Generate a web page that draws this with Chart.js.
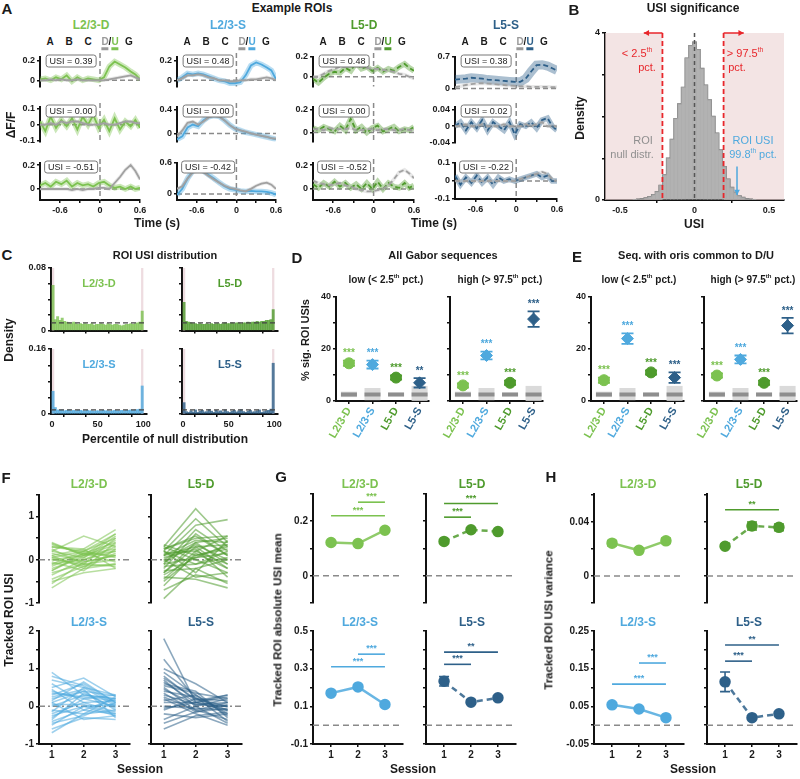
<!DOCTYPE html>
<html><head><meta charset="utf-8">
<script src="https://cdn.jsdelivr.net/npm/chart.js@4.4.1/dist/chart.umd.min.js"></script>
<style>
html,body{margin:0;padding:0;background:#fff;}
#fig{position:relative;width:800px;height:779px;overflow:hidden;font-family:"Liberation Sans",Arial,Helvetica,sans-serif;}
#fig canvas{position:absolute;z-index:1;}
.t{position:absolute;white-space:nowrap;font-weight:bold;color:#1a1a1a;transform:translate(-50%,-50%);z-index:5;line-height:1.15;}
.usi{position:absolute;font-size:9px;border:1px solid #777;border-radius:3px;padding:0 3px;background:#fff;transform:translate(-50%,-50%);z-index:5;white-space:nowrap;line-height:11px;color:#222;}
sup{font-size:0.6em;vertical-align:top;position:relative;top:-0.15em;}
</style></head><body><div id="fig"></div>
<script>
// ================= DATA =================
const COLORS = {L23D:'#7cc250', L5D:'#4f9b2d', L23S:'#4fa9de', L5S:'#2e6089'};
const CATS = ['L2/3-D','L2/3-S','L5-D','L5-S'];
const CATCOL = [COLORS.L23D, COLORS.L23S, COLORS.L5D, COLORS.L5S];

// Panel A: example traces (time in s)
const A_TIME = [-0.9,-0.82,-0.74,-0.66,-0.58,-0.5,-0.42,-0.34,-0.26,-0.18,-0.1,-0.02,0.06,0.14,0.22,0.3,0.38,0.46,0.53,0.6];
const A_SEQ = ['A','B','C','D/U','G'];
const A_L23D_U = [
 [0.01,0.02,0.0,0.03,0.01,0.05,-0.01,0.03,0.0,0.02,0.01,0.0,0.03,0.14,0.19,0.16,0.13,0.09,0.06,0.01],
 [0.02,-0.04,0.05,-0.02,0.03,-0.01,0.04,-0.03,0.05,0.0,0.06,-0.02,0.03,-0.04,0.04,-0.03,0.02,-0.01,0.03,-0.02],
 [0.03,0.05,0.02,0.06,0.04,0.07,0.02,0.05,0.03,0.04,0.02,0.05,0.06,0.03,0.01,0.02,0.0,0.02,0.0,0.01]];
const A_L23D_D = [
 [0.0,0.0,0.01,0.0,0.01,0.0,0.0,0.01,0.0,0.0,0.0,0.0,0.0,0.01,0.02,0.03,0.04,0.05,0.03,0.01],
 [0.0,0.0,0.01,0.0,0.02,0.01,0.02,0.02,0.01,0.0,0.0,0.0,0.01,0.0,0.0,0.01,0.02,0.02,0.01,0.01],
 [0.0,0.0,0.0,0.0,0.0,0.0,-0.01,0.0,-0.01,0.0,0.0,0.01,0.01,0.0,0.05,0.1,0.16,0.2,0.15,0.08]];
const A_L23D_USI = ['0.39','0.00','-0.51'];
const A_L23S_U = [
 [0.0,0.03,0.07,0.06,0.07,0.06,0.04,0.02,0.0,-0.01,-0.03,-0.03,-0.02,0.05,0.15,0.18,0.16,0.13,0.1,0.01],
 [-0.1,-0.05,0.1,0.15,0.12,0.22,0.28,0.3,0.29,0.22,0.14,0.08,0.05,0.02,0.0,-0.02,-0.04,-0.06,-0.08,-0.1],
 [-0.02,0.1,0.3,0.45,0.5,0.45,0.37,0.3,0.22,0.15,0.1,0.08,0.06,0.05,0.06,0.05,0.05,0.04,0.02,-0.01]];
const A_L23S_D = [
 [0.0,0.02,0.05,0.05,0.06,0.05,0.03,0.02,0.0,0.0,-0.01,-0.01,0.0,0.0,0.01,0.01,0.02,0.03,0.02,0.0],
 [-0.05,0.05,0.18,0.2,0.15,0.2,0.27,0.3,0.28,0.22,0.14,0.08,0.05,0.03,0.0,-0.02,-0.04,-0.06,-0.08,-0.09],
 [0.1,0.15,0.3,0.42,0.45,0.42,0.35,0.28,0.22,0.16,0.12,0.1,0.07,0.05,0.1,0.16,0.2,0.22,0.18,0.1]];
const A_L23S_USI = ['0.48','0.00','-0.42'];
const A_L5D_U = [
 [-0.02,-0.06,-0.01,0.03,0.05,0.04,0.09,0.06,0.14,0.08,0.1,0.06,0.09,0.05,0.08,0.06,0.1,0.13,0.09,0.06],
 [0.04,0.02,0.05,0.03,0.01,0.06,0.02,0.12,0.02,0.05,0.0,0.04,0.06,0.01,0.03,0.05,0.01,0.03,0.02,0.05],
 [0.04,0.01,0.05,0.02,0.06,0.02,0.05,0.01,0.04,0.0,0.05,0.0,0.06,0.0,0.05,0.02,0.01,0.05,0.01,0.03]];
const A_L5D_D = [
 [0.0,0.0,0.03,0.06,0.08,0.1,0.1,0.11,0.12,0.1,0.09,0.08,0.08,0.07,0.06,0.05,0.03,0.02,0.0,-0.02],
 [0.03,0.03,0.02,0.04,0.03,0.03,0.03,0.04,0.02,0.02,0.03,0.03,0.02,0.03,0.03,0.02,0.02,0.03,0.02,0.02],
 [0.07,0.05,0.04,0.03,0.04,0.05,0.03,0.02,0.0,-0.01,-0.02,-0.02,-0.01,0.0,0.03,0.08,0.14,0.16,0.13,0.09]];
const A_L5D_USI = ['0.48','0.00','-0.52'];
const A_L5S_U = [
 [0.2,0.21,0.22,0.24,0.23,0.22,0.2,0.19,0.18,0.17,0.16,0.15,0.15,0.22,0.38,0.52,0.53,0.5,0.45,0.4],
 [0.0,0.01,-0.01,0.01,-0.005,0.015,-0.01,0.01,0.0,-0.01,0.01,-0.02,0.005,0.0,0.01,-0.005,0.015,0.02,0.0,-0.01],
 [0.03,-0.02,0.02,-0.01,0.03,-0.01,0.02,-0.02,0.02,0.0,0.01,0.0,0.01,0.02,0.03,0.04,0.02,0.03,0.0,0.0]];
const A_L5S_D = [
 [0.03,0.05,0.08,0.1,0.11,0.12,0.11,0.1,0.09,0.08,0.07,0.06,0.05,0.05,0.04,0.04,0.04,0.04,0.03,0.03],
 [0.0,0.0,0.005,0.0,0.0,0.005,0.0,0.0,0.0,0.005,0.0,0.0,0.0,0.005,0.0,0.005,0.01,0.0,0.0,0.0],
 [0.0,0.0,0.0,0.0,0.0,0.0,0.0,0.0,0.0,0.0,0.0,0.0,0.01,0.02,0.03,0.04,0.05,0.04,0.01,0.0]];
const A_L5S_USI = ['0.38','0.02','-0.22'];
const A_L23D_YT = [[0,0.2],[-0.1,0,0.1],[0,0.2]];
const A_L23S_YT = [[0,0.2],[0,0.4],[0,0.6]];
const A_L5D_YT = [[0,0.2],[0,0.2],[0,0.2]];
const A_L5S_YT = [[0,0.7],[-0.04,0,0.04],[-0.1,0,0.1]];
const A_XT = [-0.6,-0.3,0,0.3,0.6];
const A_XL = {'-0.6':'-0.6','0':'0','0.6':'0.6'};

// Panel B: null distribution
const B_BINS = [-0.4,-0.375,-0.35,-0.325,-0.3,-0.275,-0.25,-0.225,-0.2,-0.175,-0.15,-0.125,-0.1,-0.075,-0.05,-0.025,0,0.025,0.05,0.075,0.1,0.125,0.15,0.175,0.2,0.225,0.25,0.275,0.3,0.325,0.35,0.375,0.4];
const B_DENS = [0.01,0.02,0.03,0.05,0.08,0.13,0.2,0.35,0.6,1.0,1.45,1.95,2.3,2.7,3.4,3.7,3.78,3.6,3.15,2.75,2.4,2.0,1.6,1.2,0.8,0.5,0.3,0.18,0.1,0.06,0.03,0.02,0.01];
const B_THRESH = [-0.215, 0.195];
const B_ARROW = [-0.34, 0.33];
const B_ROI = 0.285;

// Panel C: percentile histograms
const C_BINS = [1.25,3.75,6.25,8.75,11.25,13.75,16.25,18.75,21.25,23.75,26.25,28.75,31.25,33.75,36.25,38.75,41.25,43.75,46.25,48.75,51.25,53.75,56.25,58.75,61.25,63.75,66.25,68.75,71.25,73.75,76.25,78.75,81.25,83.75,86.25,88.75,91.25,93.75,96.25,98.75];
const C_L23D = [0.058,0.014,0.018,0.013,0.016,0.012,0.011,0.01,0.009,0.011,0.009,0.008,0.009,0.008,0.009,0.008,0.008,0.009,0.007,0.008,0.008,0.009,0.008,0.007,0.009,0.008,0.007,0.008,0.008,0.007,0.006,0.007,0.008,0.008,0.009,0.008,0.009,0.01,0.011,0.025];
const C_L5D = [0.036,0.012,0.011,0.01,0.009,0.009,0.008,0.009,0.008,0.008,0.009,0.008,0.009,0.008,0.009,0.009,0.008,0.009,0.01,0.009,0.009,0.01,0.009,0.01,0.01,0.009,0.01,0.01,0.011,0.01,0.011,0.011,0.012,0.011,0.012,0.012,0.013,0.013,0.014,0.027];
const C_L23S = [0.056,0.016,0.01,0.009,0.01,0.008,0.009,0.01,0.008,0.009,0.008,0.009,0.009,0.008,0.008,0.009,0.008,0.008,0.007,0.008,0.008,0.008,0.009,0.008,0.008,0.007,0.008,0.009,0.008,0.008,0.009,0.008,0.009,0.009,0.01,0.009,0.01,0.011,0.012,0.069];
const C_L5S = [0.028,0.006,0.004,0.008,0.005,0.01,0.004,0.007,0.009,0.005,0.006,0.011,0.007,0.004,0.009,0.006,0.008,0.005,0.01,0.006,0.004,0.007,0.009,0.005,0.008,0.011,0.006,0.004,0.007,0.009,0.005,0.006,0.008,0.01,0.004,0.006,0.008,0.009,0.012,0.125];
const C_PINK = [[0,2.5],[97.5,100]];
const C_UNIFORM = 0.01;

// Panels D/E: % significant ROI USIs (order: L2/3-D, L2/3-S, L5-D, L5-S)
const D_LOW = [14.5,14,9,7];      const D_LOW_ERR = [1,1.5,0.8,1.8];   const D_LOW_STARS = ['***','***','***','**'];
const D_HIGH = [6,17.5,7,31.5];   const D_HIGH_ERR = [0.8,1.5,0.8,3];  const D_HIGH_STARS = ['***','***','***','***'];
const E_LOW = [8,24,11,9];        const E_LOW_ERR = [1,2,0.8,2];       const E_LOW_STARS = ['***','***','***','***'];
const E_HIGH = [9.8,16,7,29];     const E_HIGH_ERR = [0.8,1.5,0.8,3];  const E_HIGH_STARS = ['***','***','***','***'];
const NULL_LO = [1.5,0.3,1.8,0];
const NULL_HI = [3.6,5,3.2,5.8];
const NULL_MED = [2.5,2.5,2.5,2.5];

// Panel F: tracked ROI USIs (session 1,2,3)
const SESSIONS = [1,2,3];
const F_L23D = [[0.4,0.1,0.6],[0.3,0.2,0.5],[0.2,0.55,0.3],[0.35,0.15,0.4],[0.1,0.25,0.7],[0.0,0.1,0.2],[-0.1,0.0,0.3],[0.15,-0.05,0.1],[-0.2,0.05,0.45],[-0.3,-0.1,0.0],[-0.45,-0.15,0.15],[-0.65,-0.2,-0.1],[-0.5,-0.3,-0.2],[-0.25,0.1,0.35],[0.05,0.2,0.05],[0.25,-0.1,-0.15],[-0.05,-0.25,0.25],[0.2,0.05,0.55],[-0.15,0.15,-0.05],[-0.35,0.0,0.2],[0.1,-0.2,0.4],[-0.55,-0.05,0.1],[0.3,0.25,-0.2],[0.0,-0.1,0.5],[0.38,0.12,0.25],[-0.1,0.2,0.6],[0.05,-0.15,-0.1],[-0.25,0.15,0.1]];
const F_L5D = [[0.3,1.18,0.4],[0.2,0.95,0.3],[0.1,0.8,0.93],[-0.1,0.7,0.2],[0.25,0.5,0.55],[-0.2,0.6,0.1],[0.0,0.4,0.5],[-0.3,0.3,0.35],[0.15,0.2,-0.1],[-0.5,0.1,0.3],[-0.9,-0.2,0.0],[-0.7,-0.35,-0.5],[-0.4,-0.45,-0.65],[0.3,0.0,-0.3],[-0.15,-0.1,0.2],[0.05,0.25,-0.4],[-0.6,0.15,-0.2],[0.2,-0.3,0.45],[-0.05,0.35,0.0],[0.35,0.1,0.25],[-0.25,-0.2,-0.55],[0.1,0.45,0.4],[-0.35,0.05,0.15],[0.0,-0.4,-0.3],[0.25,0.55,0.1],[-0.45,0.2,0.55],[0.1,0.3,-0.2],[-0.1,0.05,0.35],[0.2,-0.1,0.05],[-0.3,0.4,-0.1]];
const F_L23S = [[0.9,0.3,0.2],[0.7,0.5,0.3],[0.5,0.75,0.25],[0.3,0.6,0.1],[0.4,0.2,0.0],[0.2,0.4,-0.1],[0.0,0.3,0.2],[-0.2,0.1,0.15],[-0.4,-0.1,-0.2],[-0.6,-0.3,-0.35],[-0.7,-0.2,-0.1],[-0.3,0.2,0.3],[0.1,-0.35,-0.25],[0.6,0.1,-0.15],[-0.5,0.0,0.05],[0.25,0.45,-0.3],[-0.1,-0.2,0.25],[0.15,0.65,0.1],[-0.35,0.35,-0.05],[0.45,-0.1,0.2],[0.05,0.05,-0.2],[-0.15,0.5,0.0],[0.35,0.25,0.15],[-0.45,-0.25,0.1],[0.8,0.55,0.05],[-0.25,0.0,-0.25],[0.1,0.4,0.28]];
const F_L5S = [[1.8,0.1,-0.1],[1.25,0.2,0.0],[1.0,0.6,0.1],[0.9,0.3,-0.2],[0.8,0.15,0.3],[0.7,0.0,0.2],[0.6,0.4,-0.3],[0.5,-0.1,0.1],[0.4,0.25,-0.4],[0.3,0.05,0.0],[0.2,-0.2,-0.5],[0.1,0.1,0.25],[0.0,-0.05,-0.1],[-0.1,0.2,0.15],[-0.2,-0.3,-0.2],[-0.35,0.0,-0.45],[-0.45,-0.15,0.05],[-0.6,-0.25,-0.15],[0.55,0.35,0.2],[0.25,-0.1,-0.35],[0.65,0.1,0.0],[0.15,0.3,-0.25],[-0.05,0.1,0.3],[0.35,-0.15,-0.05],[0.75,0.2,-0.1],[0.45,0.05,0.1]];
const F_TOP_YT = [-1,-0.5,0,0.5,1,1.5];
const F_BOT_YT = [-1,-0.5,0,0.5,1,1.5,2];

// Panel G: tracked absolute USI mean
const G_L23D = [0.122,0.118,0.167]; const G_L23D_ERR = [0.005,0.005,0.006];
const G_L5D  = [0.126,0.169,0.162]; const G_L5D_ERR  = [0.006,0.006,0.006];
const G_L23S = [0.17,0.203,0.11];   const G_L23S_ERR = [0.01,0.01,0.01];
const G_L5S  = [0.233,0.122,0.145]; const G_L5S_ERR  = [0.025,0.01,0.01];
const G_L23D_SIG = [[2,3,0.27,'***'],[1,3,0.22,'***']];
const G_L5D_SIG  = [[1,3,0.265,'***'],[1,2,0.215,'***']];
const G_L23S_SIG = [[2,3,0.377,'***'],[1,3,0.31,'***']];
const G_L5S_SIG  = [[1,3,0.388,'**'],[1,2,0.323,'***']];

// Panel H: tracked USI variance
const H_L23D = [0.0243,0.019,0.026]; const H_L23D_ERR = [0.002,0.0015,0.002];
const H_L5D  = [0.022,0.037,0.036];  const H_L5D_ERR  = [0.0015,0.003,0.0025];
const H_L23S = [0.054,0.043,0.02];   const H_L23S_ERR = [0.005,0.003,0.003];
const H_L5S  = [0.115,0.02,0.03];    const H_L5S_ERR  = [0.026,0.004,0.004];
const H_L23D_SIG = [];
const H_L5D_SIG  = [[1,3,0.049,'**']];
const H_L23S_SIG = [[2,3,0.165,'***'],[1,3,0.109,'***']];
const H_L5S_SIG  = [[1,3,0.213,'**'],[1,2,0.17,'***']];

// ================= HELPERS =================
Chart.defaults.font.family = '"Liberation Sans", Arial, sans-serif';
Chart.defaults.font.size = 9;
Chart.defaults.font.weight = 'bold';
Chart.defaults.color = '#1a1a1a';
const FONT = '"Liberation Sans", Arial, sans-serif';
const fig = document.getElementById('fig');
function rgba(h,a){const n=parseInt(h.slice(1),16);return 'rgba('+(n>>16)+','+((n>>8)&255)+','+(n&255)+','+a+')';}
function T(html,x,y,o){o=o||{};const d=document.createElement('div');d.className='t';d.innerHTML=html;
  d.style.left=x+'px';d.style.top=y+'px';d.style.fontSize=(o.s||11)+'px';if(o.c)d.style.color=o.c;
  let tr='translate(-50%,-50%)';if(o.a==='l')tr='translate(0,-50%)';if(o.a==='r')tr='translate(-100%,-50%)';
  if(o.r)tr+=' rotate(-90deg)';d.style.transform=tr;if(o.w)d.style.fontWeight=o.w;fig.appendChild(d);return d;}
const YW=36, PT=8, PR=16;
function mk(l,t,w,h,xs,ys,datasets,plugins,xh){
  if(xh==null)xh=24;
  const c=document.createElement('canvas');
  const W=w+YW+PR, H=h+PT+xh;
  c.width=W;c.height=H;c.style.width=W+'px';c.style.height=H+'px';
  c.style.left=(l-YW)+'px';c.style.top=(t-PT)+'px';
  fig.appendChild(c);
  xs.afterFit=s=>{s.height=xh;}; ys.afterFit=s=>{s.width=YW;};
  xs.position='bottom'; ys.position='left';
  return new Chart(c,{type:'line',data:{datasets:datasets},
    options:{responsive:false,maintainAspectRatio:false,animation:false,devicePixelRatio:1,events:[],
      layout:{padding:{top:PT,right:PR,left:0,bottom:0}},scales:{x:xs,y:ys},
      plugins:{legend:{display:false},tooltip:{enabled:false}}},plugins:plugins||[]});
}
function ax(min,max,vals,labs,o){
  o=o||{};
  return {type:'linear',min:min,max:max,offset:false,
    afterBuildTicks:sc=>{sc.ticks=vals.map(v=>({value:v}));},
    ticks:{autoSkip:false,maxRotation:o.rot||0,minRotation:o.rot||0,padding:(o.pad!=null?o.pad:2),
      font:{size:o.fs||9,weight:'bold',family:FONT},color:o.col||'#1a1a1a',
      callback:v=>(labs&&labs[v]!==undefined)?labs[v]:''},
    grid:{display:true,drawOnChartArea:false,drawTicks:true,tickLength:o.tl||3,color:'#111',lineWidth:1.5},
    border:{display:true,color:'#111',width:2}};
}
function hidden(min,max){return {type:'linear',min:min,max:max,offset:false,ticks:{display:false},grid:{display:false},border:{display:false}};}
function lab(vals){const o={};vals.forEach(v=>{o[v]=String(v);});return o;}
function zeroPlug(h,v,dash){return {id:'zero',beforeDatasetsDraw(ch){const {ctx,chartArea:a,scales}=ch;ctx.save();
  ctx.strokeStyle='#8a8a8a';ctx.lineWidth=1.5;ctx.setLineDash(dash||[5,3]);ctx.beginPath();
  if(h){const py=scales.y.getPixelForValue(0);ctx.moveTo(a.left,py);ctx.lineTo(a.right,py);}
  if(v){const px=scales.x.getPixelForValue(0);ctx.moveTo(px,a.top-4);ctx.lineTo(px,a.bottom);}
  ctx.stroke();ctx.restore();}};}
function arrow(ctx,x1,y1,x2,y2,c){ctx.strokeStyle=c;ctx.fillStyle=c;ctx.lineWidth=1.5;ctx.setLineDash([]);ctx.beginPath();ctx.moveTo(x1,y1);ctx.lineTo(x2,y2);ctx.stroke();
  const an=Math.atan2(y2-y1,x2-x1);ctx.beginPath();ctx.moveTo(x2,y2);ctx.lineTo(x2-6*Math.cos(an-0.5),y2-6*Math.sin(an-0.5));ctx.lineTo(x2-6*Math.cos(an+0.5),y2-6*Math.sin(an+0.5));ctx.closePath();ctx.fill();}
const errPlug={id:'err',afterDatasetsDraw(ch){const {ctx,scales:{x,y}}=ch;ch.data.datasets.forEach(ds=>{if(!ds.err)return;
  ctx.save();ctx.strokeStyle=ds.pointBackgroundColor;ctx.lineWidth=1.6;ctx.setLineDash([]);
  ds.data.forEach((p,i)=>{const e=ds.err[i];const px=x.getPixelForValue(p.x),y1=y.getPixelForValue(p.y-e),y2=y.getPixelForValue(p.y+e);
    ctx.beginPath();ctx.moveTo(px,y1);ctx.lineTo(px,y2);ctx.moveTo(px-5,y1);ctx.lineTo(px+5,y1);ctx.moveTo(px-5,y2);ctx.lineTo(px+5,y2);ctx.stroke();});
  ctx.restore();});}};
function sigPlug(sig,c){return {id:'sig',afterDatasetsDraw(ch){const {ctx,scales:{x,y}}=ch;ctx.save();ctx.strokeStyle=c;ctx.fillStyle=c;ctx.lineWidth=1.6;
  ctx.font='bold 9px '+FONT;ctx.textAlign='center';ctx.textBaseline='bottom';
  sig.forEach(s=>{const x1=x.getPixelForValue(s[0]),x2=x.getPixelForValue(s[1]),py=y.getPixelForValue(s[2]);
    ctx.beginPath();ctx.moveTo(x1,py);ctx.lineTo(x2,py);ctx.stroke();ctx.fillText(s[3],(x1+x2)/2,py-1);});
  ctx.restore();}};}

// ================= PANEL A =================
T('A',7,9,{s:15});
T('Example ROIs',292,9,{s:12});
const aCols=[
 {n:'L2/3-D',u:A_L23D_U,d:A_L23D_D,usi:A_L23D_USI,c:COLORS.L23D,dash:false,l:40,w:100,yt:A_L23D_YT,
  rows:[[57,33,-0.064,0.236],[107,38,-0.106,0.111],[163,37,-0.092,0.217]]},
 {n:'L2/3-S',u:A_L23S_U,d:A_L23S_D,usi:A_L23S_USI,c:COLORS.L23S,dash:false,l:177,w:99,yt:A_L23S_YT,
  rows:[[57,33,-0.064,0.236],[107,38,-0.138,0.446],[163,37,-0.116,0.6]]},
 {n:'L5-D',u:A_L5D_U,d:A_L5D_D,usi:A_L5D_USI,c:COLORS.L5D,dash:true,l:313,w:101,yt:A_L5D_YT,
  rows:[[57,33,-0.1,0.2],[107,38,-0.08,0.224],[163,37,-0.092,0.217]]},
 {n:'L5-S',u:A_L5S_U,d:A_L5S_D,usi:A_L5S_USI,c:COLORS.L5S,dash:true,l:455,w:102,yt:A_L5S_YT,
  rows:[[57,35,0,0.7],[107,39,-0.04,0.047],[163,36,-0.1,0.1]]}
];
const SEQ_OFF=[10,29,48,70,89];
aCols.forEach(col=>{
  T(col.n,col.l+51,26,{s:12,c:col.c});
  A_SEQ.forEach((s,k)=>{
    let html=s;
    if(s==='D/U') html='<span style="color:#9a9a9a;border-bottom:3px solid #9a9a9a">D</span>/<span style="color:'+col.c+';border-bottom:3px solid '+col.c+'">U</span>';
    T(html,col.l+SEQ_OFF[k],42,{s:10});
  });
  col.rows.forEach((r,i)=>{
    const pts=arr=>A_TIME.map((t,k)=>({x:t,y:arr[k]}));
    const dash=col.dash?[5,3]:[];
    const ds=[
      {data:pts(col.d[i]),borderColor:'rgba(165,165,165,0.25)',borderWidth:3.5,pointRadius:0},
      {data:pts(col.d[i]),borderColor:'#a0a0a0',borderWidth:1.8,pointRadius:0,borderDash:dash},
      {data:pts(col.u[i]),borderColor:rgba(col.c,0.4),borderWidth:(col.n==='L5-S'&&i===0)?9:5.5,pointRadius:0},
      {data:pts(col.u[i]),borderColor:col.c,borderWidth:1.8,pointRadius:0,borderDash:dash}];
    const xs = i===2 ? ax(-0.9,0.6,A_XT,A_XL) : hidden(-0.9,0.6);
    const ys = ax(r[2],r[3],col.yt[i],lab(col.yt[i]));
    mk(col.l,r[0],col.w,r[1],xs,ys,ds,[zeroPlug(true,true)],i===2?18:4);
    const b=document.createElement('div');b.className='usi';b.textContent='USI = '+col.usi[i];
    b.style.left=(col.l+31)+'px';b.style.top=(r[0]+4)+'px';fig.appendChild(b);
  });
});
T('ΔF/F',12,125,{s:12,r:true});
T('Time (s)',157,224,{s:12});
T('Time (s)',434,224,{s:12});

// ================= PANEL B =================
T('B',574,10,{s:15});
T('USI significance',693,9,{s:12});
const bPlug={id:'b',beforeDatasetsDraw(ch){const {ctx,chartArea:a,scales:{x}}=ch;const x1=x.getPixelForValue(B_THRESH[0]),x2=x.getPixelForValue(B_THRESH[1]);
   ctx.save();ctx.fillStyle='rgba(236,214,214,0.65)';ctx.fillRect(a.left,a.top,x1-a.left,a.bottom-a.top);ctx.fillRect(x2,a.top,a.right-x2,a.bottom-a.top);ctx.restore();},
 afterDatasetsDraw(ch){const {ctx,chartArea:a,scales:{x,y}}=ch;ctx.save();
   ctx.setLineDash([4,3]);ctx.lineWidth=1.5;ctx.strokeStyle='#555';const x0=x.getPixelForValue(0);ctx.beginPath();ctx.moveTo(x0,a.top);ctx.lineTo(x0,a.bottom);ctx.stroke();
   ctx.strokeStyle='#e8262b';ctx.lineWidth=1.8;ctx.setLineDash([5,3]);
   B_THRESH.forEach(v=>{const px=x.getPixelForValue(v);ctx.beginPath();ctx.moveTo(px,a.top);ctx.lineTo(px,a.bottom);ctx.stroke();});
   arrow(ctx,x.getPixelForValue(B_THRESH[0]),a.top,x.getPixelForValue(B_ARROW[0]),a.top,'#e8262b');
   arrow(ctx,x.getPixelForValue(B_THRESH[1]),a.top,x.getPixelForValue(B_ARROW[1]),a.top,'#e8262b');
   arrow(ctx,x.getPixelForValue(B_ROI),y.getPixelForValue(0.8),x.getPixelForValue(B_ROI),y.getPixelForValue(0.12),COLORS.L23S);
   ctx.restore();}};
mk(605,33,179,167, ax(-0.6,0.6,[-0.5,0,0.5],lab([-0.5,0,0.5])), ax(0,4,[0,1,2,3,4],{0:'0',4:'4'}),
  [{type:'bar',data:B_BINS.map((b,i)=>({x:b,y:B_DENS[i]})),backgroundColor:'rgba(170,170,170,0.9)',borderWidth:0,barPercentage:1,categoryPercentage:1,grouped:false},
   {data:B_BINS.map((b,i)=>({x:b,y:B_DENS[i]})),stepped:'middle',borderColor:'#6e6e6e',borderWidth:1.3,pointRadius:0,fill:false}],
  [bPlug],20);
T('&lt; 2.5<sup>th</sup>',637,53,{s:11,c:'#e8262b',w:'normal'});
T('pct.',647,67,{s:11,c:'#e8262b',w:'normal'});
T('&gt; 97.5<sup>th</sup>',745,53,{s:11,c:'#e8262b',w:'normal'});
T('pct.',737,67,{s:11,c:'#e8262b',w:'normal'});
T('ROI',643,140,{s:11,c:'#8f8f8f',w:'normal'});
T('null distr.',632,154,{s:11,c:'#8f8f8f',w:'normal'});
T('ROI USI',753,140,{s:11,c:COLORS.L23S,w:'normal'});
T('99.8<sup>th</sup> pct.',753,154,{s:11,c:COLORS.L23S,w:'normal'});
T('Density',581,118,{s:12,r:true});
T('USI',694,225,{s:12});

// ================= PANEL C =================
T('C',7,255,{s:15});
T('ROI USI distribution',165,255,{s:11});
const cPanels=[
 {n:'L2/3-D',v:C_L23D,c:COLORS.L23D,l:51,t:268,yt:[0,0.02,0.04,0.06,0.08],yl:{0:'0',0.08:'0.08'},bot:false},
 {n:'L5-D',v:C_L5D,c:COLORS.L5D,l:182,t:268,yt:[0,0.02,0.04,0.06,0.08],yl:{},bot:false},
 {n:'L2/3-S',v:C_L23S,c:COLORS.L23S,l:51,t:349,yt:[0,0.04,0.08,0.12,0.16],yl:{0:'0',0.16:'0.16'},bot:true},
 {n:'L5-S',v:C_L5S,c:COLORS.L5S,l:182,t:349,yt:[0,0.04,0.08,0.12,0.16],yl:{},bot:true}];
const cPlug={id:'c',beforeDatasetsDraw(ch){const {ctx,chartArea:a,scales:{x}}=ch;ctx.save();ctx.fillStyle='rgba(226,196,204,0.6)';
   C_PINK.forEach(p=>{const x1=x.getPixelForValue(p[0]),x2=x.getPixelForValue(p[1]);ctx.fillRect(x1,a.top,x2-x1,a.bottom-a.top);});ctx.restore();},
 afterDatasetsDraw(ch){const {ctx,chartArea:a,scales:{y}}=ch;ctx.save();ctx.strokeStyle='#444';ctx.lineWidth=1.2;ctx.setLineDash([5,3]);
   const py=y.getPixelForValue(C_UNIFORM);ctx.beginPath();ctx.moveTo(a.left,py);ctx.lineTo(a.right,py);ctx.stroke();ctx.restore();}};
cPanels.forEach(p=>{
  const ymax=p.yt[p.yt.length-1];
  const xs=ax(-1,104,[0,25,50,75,100],p.bot?{0:'0',50:'50',100:'100'}:{});
  mk(p.l,p.t,96,65,xs,ax(0,ymax,p.yt,p.yl),
    [{type:'bar',data:C_BINS.map((b,i)=>({x:b,y:p.v[i]})),backgroundColor:rgba(p.c,0.8),borderWidth:0,barPercentage:1,categoryPercentage:1,grouped:false}],
    [cPlug],p.bot?16:5);
  T(p.n,p.l+48,p.t+15,{s:11,c:p.c});
});
T('Density',10,340,{s:12,r:true});
T('Percentile of null distribution',165,440,{s:12});

// ================= PANELS D / E =================
T('D',297,258,{s:15});
T('All Gabor sequences',443,255,{s:11});
T('low (&lt; 2.5<sup>th</sup> pct.)',386,280,{s:10});
T('high (&gt; 97.5<sup>th</sup> pct.)',500,280,{s:10});
T('E',577,257,{s:15});
T('Seq. with oris common to D/U',696,255,{s:11});
T('low (&lt; 2.5<sup>th</sup> pct.)',639,280,{s:10});
T('high (&gt; 97.5<sup>th</sup> pct.)',753,280,{s:10});
T('% sig. ROI USIs',305,340,{s:11,r:true});
function dePlug(p){return {id:'de',
  beforeDatasetsDraw(ch){const {ctx,scales:{x,y}}=ch;ctx.save();
    p.v.forEach((_,i)=>{const px=x.getPixelForValue(i),hw=8;
      const yl=y.getPixelForValue(NULL_LO[i]),yh=y.getPixelForValue(NULL_HI[i]),ym=y.getPixelForValue(NULL_MED[i]);
      ctx.fillStyle='rgba(212,212,212,0.85)';ctx.fillRect(px-hw,yh,2*hw,yl-yh);
      ctx.fillStyle='#8e8e8e';ctx.fillRect(px-hw,ym-2,2*hw,4);});
    ctx.restore();},
  afterDatasetsDraw(ch){const {ctx,scales:{x,y}}=ch;ctx.save();
    p.v.forEach((v,i)=>{const px=x.getPixelForValue(i),c=CATCOL[i];
      const y1=y.getPixelForValue(v-p.e[i]),y2=y.getPixelForValue(v+p.e[i]);
      ctx.strokeStyle=c;ctx.lineWidth=1.8;ctx.beginPath();ctx.moveTo(px,y1);ctx.lineTo(px,y2);
      ctx.moveTo(px-6,y1);ctx.lineTo(px+6,y1);ctx.moveTo(px-6,y2);ctx.lineTo(px+6,y2);ctx.stroke();
      ctx.fillStyle=c;ctx.font='bold 10px '+FONT;ctx.textAlign='center';ctx.textBaseline='bottom';ctx.fillText(p.s[i],px,y2-2);});
    ctx.restore();}};}
const catLab={};CATS.forEach((c,i)=>{catLab[i]=c;});
[{l:336,v:D_LOW,e:D_LOW_ERR,s:D_LOW_STARS,yl:true},{l:450,v:D_HIGH,e:D_HIGH_ERR,s:D_HIGH_STARS,yl:false},
 {l:591,v:E_LOW,e:E_LOW_ERR,s:E_LOW_STARS,yl:true},{l:704,v:E_HIGH,e:E_HIGH_ERR,s:E_HIGH_STARS,yl:false}].forEach(p=>{
  const xs=ax(-0.55,3.4,[0,1,2,3],catLab,{rot:60,fs:11,col:ctx=>CATCOL[ctx.index],pad:1});
  const ys=ax(0,40,[0,10,20,30,40],p.yl?{0:'0',20:'20',40:'40'}:{},{fs:9});
  mk(p.l,297,93,104,xs,ys,
    [{data:p.v.map((v,i)=>({x:i,y:v})),showLine:false,pointStyle:['circle','rectRot','circle','rectRot'],pointRadius:[5.5,6,5.5,6],
      pointBackgroundColor:CATCOL,pointBorderColor:CATCOL,pointBorderWidth:1}],
    [dePlug(p)],56);
});

// ================= PANEL F =================
T('F',6,478,{s:15});
[{n:'L2/3-D',v:F_L23D,c:COLORS.L23D,l:39,t:495,h:112,top:true,left:true},
 {n:'L5-D',v:F_L5D,c:COLORS.L5D,l:151,t:495,h:112,top:true,left:false},
 {n:'L2/3-S',v:F_L23S,c:COLORS.L23S,l:39,t:631,h:113,top:false,left:true},
 {n:'L5-S',v:F_L5S,c:COLORS.L5S,l:151,t:631,h:113,top:false,left:false}].forEach(p=>{
  const xs=p.top?hidden(0.6,3.45):ax(0.6,3.45,SESSIONS,lab(SESSIONS),{fs:10});
  const ys=p.top?ax(-1,1.5,F_TOP_YT,p.left?{'-1':'-1',0:'0',1:'1'}:{},{fs:10}):ax(-1,2,F_BOT_YT,p.left?{'-1':'-1',0:'0',1:'1',2:'2'}:{},{fs:10});
  const ds=p.v.map(tr=>({data:SESSIONS.map((s,i)=>({x:s,y:tr[i]})),borderColor:rgba(p.c,0.55),borderWidth:1.6,pointRadius:0}));
  mk(p.l,p.t,91,p.h,xs,ys,ds,[zeroPlug(true,false,[6,3,2,3])],p.top?4:18);
  T(p.n,p.l+50,p.top?485:623,{s:12,c:p.c});
});
T('Tracked ROI USI',10,620,{s:12,r:true});
T('Session',140,770,{s:12});

// ================= PANELS G / H =================
T('G',281,477,{s:15});
T('H',551,477,{s:15});
function ghPanel(l,t,top,left,vals,errs,c,dash,sig,yr,yt,yl){
  const xs=top?hidden(0.33,3.67):ax(0.33,3.67,SESSIONS,lab(SESSIONS),{fs:10});
  const ys=ax(yr[0],yr[1],yt,left?yl:{},{fs:10});
  const ds=[{data:SESSIONS.map((s,i)=>({x:s,y:vals[i]})),borderColor:rgba(c,0.85),pointBackgroundColor:c,pointBorderColor:c,
    pointRadius:4.5,borderWidth:2.5,borderDash:dash?[6,4]:[],err:errs}];
  mk(l,t,90,113,xs,ys,ds,[zeroPlug(true,false,[6,4]),errPlug,sigPlug(sig,c)],top?4:18);
}
const G_TOP=[-0.1,0.3], G_TOP_YT=[-0.1,0,0.1,0.2,0.3], G_TOP_YL={0:'0',0.2:'0.2'};
const G_BOT=[-0.1,0.5], G_BOT_YT=[-0.1,0,0.1,0.2,0.3,0.4,0.5], G_BOT_YL={'-0.1':'-0.1',0.1:'0.1',0.3:'0.3',0.5:'0.5'};
ghPanel(313,494,true,true,G_L23D,G_L23D_ERR,COLORS.L23D,false,G_L23D_SIG,G_TOP,G_TOP_YT,G_TOP_YL);
ghPanel(426,494,true,false,G_L5D,G_L5D_ERR,COLORS.L5D,true,G_L5D_SIG,G_TOP,G_TOP_YT,G_TOP_YL);
ghPanel(313,631,false,true,G_L23S,G_L23S_ERR,COLORS.L23S,false,G_L23S_SIG,G_BOT,G_BOT_YT,G_BOT_YL);
ghPanel(426,631,false,false,G_L5S,G_L5S_ERR,COLORS.L5S,true,G_L5S_SIG,G_BOT,G_BOT_YT,G_BOT_YL);
T('L2/3-D',360,485,{s:12,c:COLORS.L23D});T('L5-D',472,485,{s:12,c:COLORS.L5D});
T('L2/3-S',360,623,{s:12,c:COLORS.L23S});T('L5-S',472,623,{s:12,c:COLORS.L5S});
T('Tracked ROI absolute USI mean',278,620,{s:11.5,r:true});
T('Session',413,770,{s:12});

const H_TOP=[-0.02,0.0607], H_TOP_YT=[-0.02,0,0.02,0.04,0.06], H_TOP_YL={0:'0',0.04:'0.04'};
const H_BOT=[-0.05,0.25], H_BOT_YT=[-0.05,0,0.05,0.1,0.15,0.2,0.25], H_BOT_YL={'-0.05':'-0.05',0.05:'0.05',0.15:'0.15',0.25:'0.25'};
ghPanel(594,494,true,true,H_L23D,H_L23D_ERR,COLORS.L23D,false,H_L23D_SIG,H_TOP,H_TOP_YT,H_TOP_YL);
ghPanel(707,494,true,false,H_L5D,H_L5D_ERR,COLORS.L5D,true,H_L5D_SIG,H_TOP,H_TOP_YT,H_TOP_YL);
ghPanel(594,631,false,true,H_L23S,H_L23S_ERR,COLORS.L23S,false,H_L23S_SIG,H_BOT,H_BOT_YT,H_BOT_YL);
ghPanel(707,631,false,false,H_L5S,H_L5S_ERR,COLORS.L5S,true,H_L5S_SIG,H_BOT,H_BOT_YT,H_BOT_YL);
T('L2/3-D',638,485,{s:12,c:COLORS.L23D});T('L5-D',749,485,{s:12,c:COLORS.L5D});
T('L2/3-S',638,623,{s:12,c:COLORS.L23S});T('L5-S',749,623,{s:12,c:COLORS.L5S});
T('Tracked ROI USI variance',549,620,{s:11.5,r:true});
T('Session',693,770,{s:12});
</script></body></html>
